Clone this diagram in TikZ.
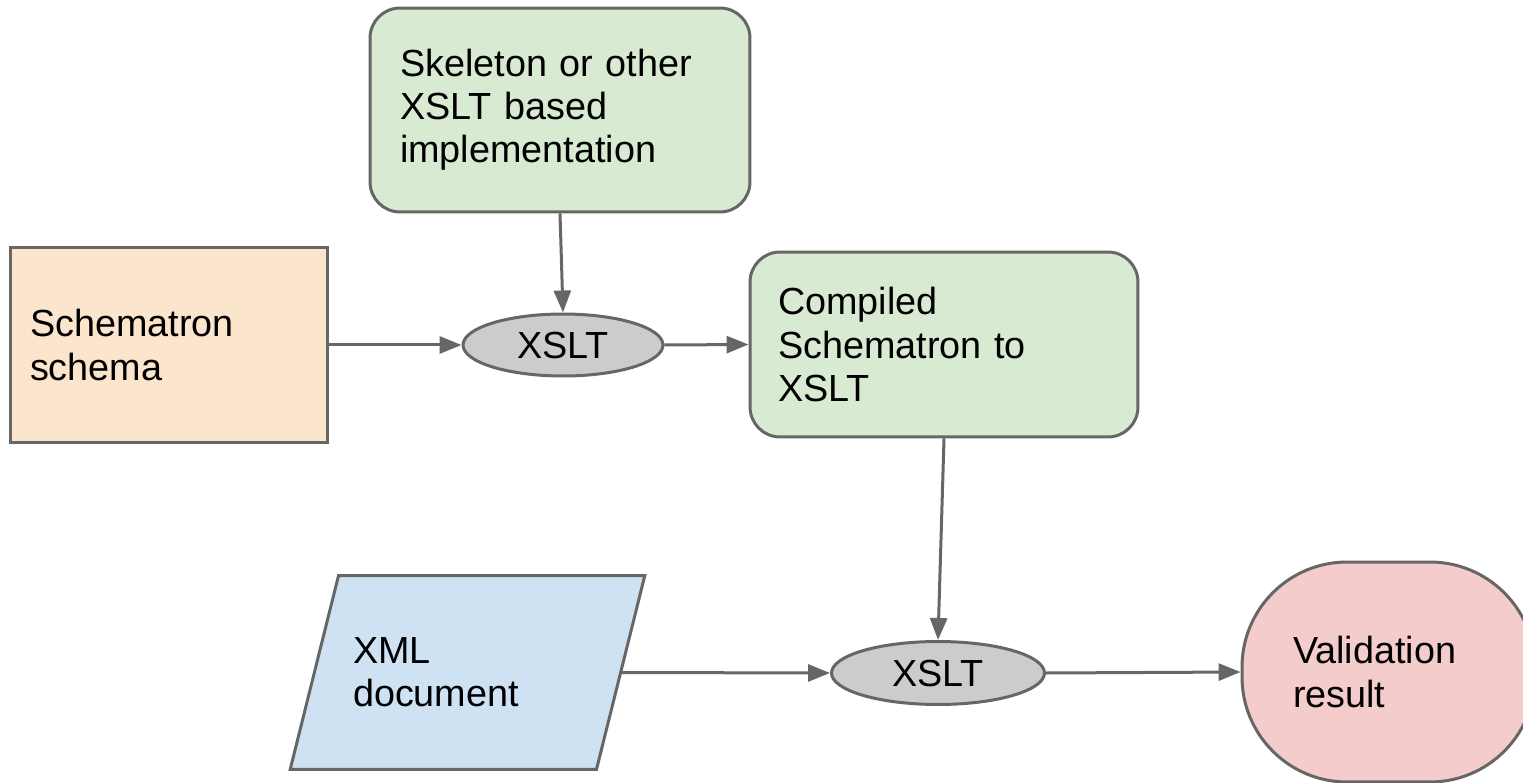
\documentclass[tikz,border=0pt]{standalone}
\usepackage{fontspec}
\setmainfont{Liberation Sans}
\usetikzlibrary{arrows.meta,shapes.geometric}
\definecolor{edgegray}{HTML}{666666}
\definecolor{skelgreen}{HTML}{D9EAD3}
\definecolor{schemaorange}{HTML}{FCE5CD}
\definecolor{xsltgray}{HTML}{CCCCCC}
\definecolor{xmlblue}{HTML}{CFE2F3}
\definecolor{resultred}{HTML}{F4CCCC}
\tikzset{
	box/.style={draw=edgegray, line width=0.06cm, align=left, inner ysep=0pt,
		font=\fontsize{21.5}{24.5}\selectfont},
	xsltnode/.style={ellipse, draw=edgegray, fill=xsltgray, line width=0.06cm, inner sep=0pt,
		font=\fontsize{21.5}{24.5}\selectfont},
	flow/.style={draw=edgegray, line width=0.06cm, -{Triangle[length=0.44cm, width=0.34cm]}}
}

\begin{document}
\begin{tikzpicture}[x=0.02cm, y=-0.02cm]
			%%%%% START %%%%%
			
			\useasboundingbox (0, 0) rectangle (1523, 783);
			
			\node[box, fill=skelgreen, rounded corners=0.6cm, minimum width=7.6cm, minimum height=4.08cm,
				text width=6.4cm, inner xsep=0.6cm] (skel) at (560, 110) {Skeleton or other\\XSLT based\\implementation};
			
			\node[box, fill=schemaorange, minimum width=6.36cm, minimum height=3.92cm,
				text width=5.56cm, inner xsep=0.4cm] (schema) at (169, 345) {Schematron\\schema};
			
			\node[xsltnode, minimum width=4cm, minimum height=1.24cm] (xslt1) at (563, 345) {XSLT};
			
			\node[box, fill=skelgreen, rounded corners=0.6cm, minimum width=7.76cm, minimum height=3.7cm,
				text width=6.64cm, inner xsep=0.56cm] (comp) at (944, 344.5) {Compiled\\Schematron to\\XSLT};
			
			\node[box, trapezium, trapezium left angle=76, trapezium right angle=104,
				fill=xmlblue, text width=4.58cm, inner xsep=0.29cm, inner ysep=1.245cm] (xml) at (467.5, 672.5) {XML\\document};
			
			\node[xsltnode, minimum width=4.26cm, minimum height=1.26cm] (xslt2) at (938, 673) {XSLT};
			
			\node[box, fill=resultred, rounded corners=2.1cm, minimum width=5.86cm, minimum height=4.4cm,
				text width=3.82cm, inner xsep=1.02cm] (valid) at (1388.5, 672) {Validation\\result};
			
			\draw[flow] (skel.south) -- (xslt1.north);
			\draw[flow] (schema.east) -- (xslt1.west);
			\draw[flow] (xslt1.east) -- (comp.west);
			\draw[flow] (comp.south) -- (xslt2.north);
			\draw[flow] (xml.east) -- (xslt2.west);
			\draw[flow] (xslt2.east) -- (valid.west);
			
			%%%%% END %%%%%
		\end{tikzpicture}
\end{document}
